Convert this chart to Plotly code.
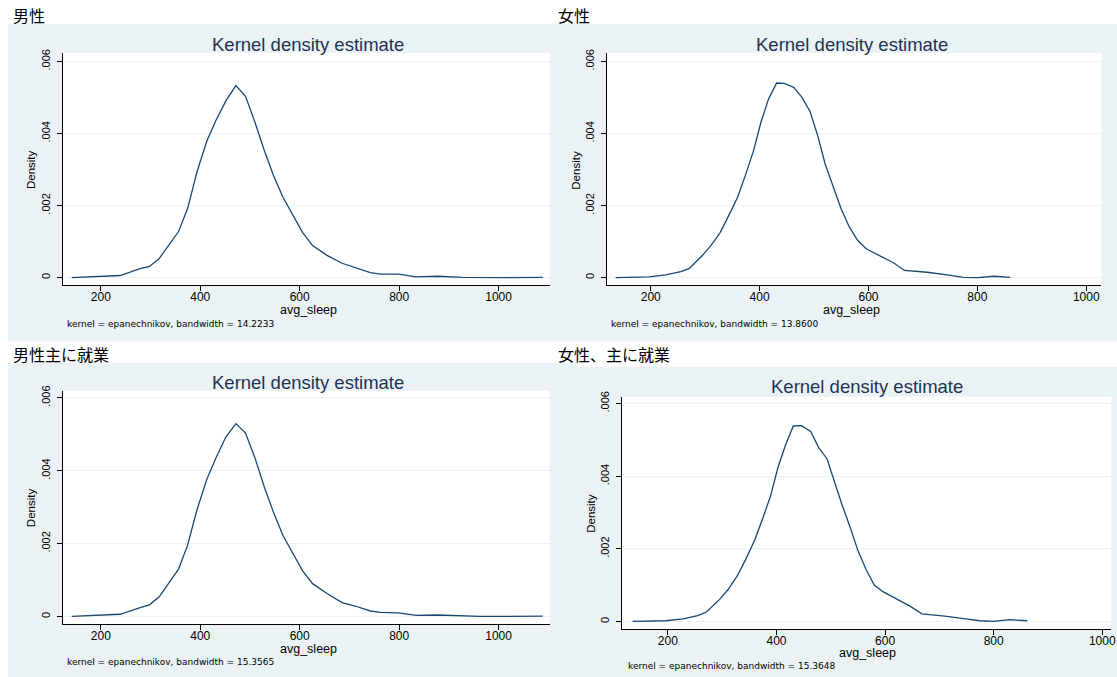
import plotly.graph_objects as go

# ---------------- data ----------------
panel_titles = ["男性", "女性", "男性主に就業", "女性、主に就業"]
bandwidths = ["14.2233", "13.8600", "15.3565", "15.3648"]

x_ticks = [200, 400, 600, 800, 1000]
y_ticks = [0, 0.002, 0.004, 0.006]
y_tick_text = ["0", ".002", ".004", ".006"]

male_x = [141.6, 181.9, 238.9, 279.1, 297.9, 317.4, 336.2, 356.3, 374.4, 393.3, 413.4, 431.5,
          451.7, 471.8, 491.1, 510.0, 528.8, 547.5, 566.4, 585.7, 605.9, 626.0, 655.0, 685.2,
          712.9, 742.2, 762.3, 798.6, 834.3, 877.0, 927.0, 962.9, 1020.0, 1089.0]
male_y = [0.0, 0.00003, 0.00006, 0.00025, 0.00031, 0.00053, 0.00089, 0.00128, 0.00191, 0.00293,
          0.0038, 0.00436, 0.00491, 0.00533, 0.00503, 0.00431, 0.00353, 0.00283, 0.00223, 0.00177,
          0.00125, 0.00089, 0.00062, 0.0004, 0.00028, 0.00014, 0.0001, 0.0001, 0.00002, 0.00004,
          0.00001, 0.0, 0.0, 0.00001]

female_x = [135.6, 196.9, 227.6, 255.2, 270.5, 295.1, 310.4, 327.5, 344.1, 359.5, 374.8, 389.0,
            402.4, 416.5, 431.3, 445.3, 462.6, 477.8, 492.6, 506.7, 520.2, 535.4, 549.6, 564.9,
            580.3, 595.6, 620.0, 645.0, 666.2, 707.9, 747.7, 774.2, 800.7, 830.5, 860.3]
female_y = [0.0, 0.00002, 0.00008, 0.00017, 0.00025, 0.00062, 0.00089, 0.00125, 0.00175, 0.00223,
            0.00288, 0.00353, 0.00431, 0.00496, 0.0054, 0.00539, 0.00528, 0.005, 0.00461, 0.00394,
            0.00316, 0.00251, 0.00191, 0.0014, 0.00103, 0.0008, 0.00062, 0.00042, 0.0002, 0.00015,
            0.00007, 0.00001, 0.0, 0.00004, 0.00001]

male_work_x = male_x
male_work_y = [0.0, 0.00003, 0.00006, 0.00024, 0.00032, 0.00054, 0.0009, 0.0013, 0.00195, 0.00292,
               0.00377, 0.00435, 0.00493, 0.00529, 0.00503, 0.00435, 0.00355, 0.00285, 0.00222,
               0.00176, 0.00125, 0.0009, 0.00063, 0.00038, 0.00028, 0.00015, 0.00011, 0.0001,
               0.00003, 0.00004, 0.00002, 0.0, 0.0, 0.00001]

female_work_x = [135, 196, 228, 255, 271, 295, 311, 328, 344, 360, 375, 389, 403, 417, 431, 446,
                 463, 478, 493, 507, 521, 536, 550, 565, 580, 596, 620, 645, 668, 710, 748, 775,
                 800, 830, 862]
female_work_y = [0.0, 0.00002, 0.00007, 0.00016, 0.00026, 0.0006, 0.00088, 0.00126, 0.00173,
                 0.00224, 0.00285, 0.00345, 0.00425, 0.00487, 0.00538, 0.00539, 0.00523, 0.00478,
                 0.00448, 0.00383, 0.0032, 0.00258, 0.00195, 0.00143, 0.001, 0.00082, 0.00062,
                 0.00043, 0.00021, 0.00015, 0.00007, 0.00002, 0.0, 0.00005, 0.00002]

series = [(male_x, male_y), (female_x, female_y),
          (male_work_x, male_work_y), (female_work_x, female_work_y)]

# ---------------- layout (pixel geometry, in target-picture pixels) ----------------
SX, SY = 0.9944, 0.988   # observed picture scale of the page
OY = 6.5                 # observed picture top offset
W, H = 1125, 680         # css size of the figure
def fx(px): return (px / SX) / W
def fy(py): return 1 - ((py - OY) / SY) / H

panels = [
    dict(l=62.7, r=549, t=53, b=285, x200=100.7, x1000=498.0, y0=277.3, y6=61.7,
         title=(11, 15), kde=(308, 45), dens=(31, 170), xlab=(308, 310), note=(65, 323)),
    dict(l=606, r=1100, t=53, b=285, x200=650.0, x1000=1085.0, y0=277.3, y6=61.7,
         title=(555, 15), kde=(851, 45), dens=(575, 170), xlab=(851, 310), note=(608, 323)),
    dict(l=62.7, r=549, t=390, b=623, x200=100.7, x1000=498.0, y0=615, y6=397,
         title=(11, 353), kde=(308, 382), dens=(31, 507), xlab=(308, 647), note=(65, 660)),
    dict(l=621, r=1110, t=396, b=628, x200=667.1, x1000=1101.0, y0=620, y6=402.7,
         title=(555, 353), kde=(866, 386), dens=(590, 512), xlab=(866, 651), note=(625, 664)),
]

bg_rects = [(8, 1117, 24.5, 341), (8, 566, 362, 677), (568, 1117, 366, 677)]

BG = "#eaf2f3"
LINE = "#1a476f"
TXT_FONT = "Liberation Sans, Arial, sans-serif"
NOTE_FONT = "DejaVu Sans, sans-serif"
CJK_FONT = "Noto Sans CJK JP, sans-serif"

fig = go.Figure()
shapes = []
annotations = []
layout_axes = {}

for x0, x1, y0, y1 in bg_rects:
    shapes.append(dict(type="rect", xref="paper", yref="paper", x0=fx(x0), x1=min(1, fx(x1) + 0.01),
                       y0=max(0, fy(y1) - 0.01) if y1 >= 677 else fy(y1), y1=fy(y0),
                       fillcolor=BG, line=dict(width=0), layer="below"))

for i, (p, (xs, ys)) in enumerate(zip(panels, series)):
    n = "" if i == 0 else str(i + 1)
    upx = 800.0 / (p["x1000"] - p["x200"])
    upy = 0.006 / (p["y0"] - p["y6"])
    xr = [200 - (p["x200"] - p["l"]) * upx, 200 + (p["r"] - p["x200"]) * upx]
    yr = [-(p["b"] - p["y0"]) * upy, 0.006 + (p["y6"] - p["t"]) * upy]

    shapes.append(dict(type="rect", xref="paper", yref="paper", x0=fx(p["l"]), x1=fx(p["r"]),
                       y0=fy(p["b"]), y1=fy(p["t"]), fillcolor="white", line=dict(width=0),
                       layer="below"))

    layout_axes["xaxis" + n] = dict(
        domain=[fx(p["l"]), fx(p["r"])], range=xr, anchor="y" + n,
        tickvals=x_ticks, ticks="outside", ticklen=5, tickcolor="black", tickwidth=1,
        ticklabelstandoff=-5,
        showline=True, linecolor="black", linewidth=1, showgrid=False, zeroline=False,
        tickfont=dict(family=TXT_FONT, size=12, color="black"), fixedrange=True)
    layout_axes["yaxis" + n] = dict(
        domain=[fy(p["b"]), fy(p["t"])], range=yr, anchor="x" + n,
        tickvals=y_ticks, ticktext=y_tick_text, tickangle=-90,
        ticks="outside", ticklen=5, tickcolor="black", tickwidth=1, ticklabelstandoff=2,
        showline=True, linecolor="black", linewidth=1, showgrid=True, gridcolor=BG,
        gridwidth=1, zeroline=False,
        tickfont=dict(family=TXT_FONT, size=11, color="black"), fixedrange=True)

    fig.add_trace(go.Scatter(x=xs, y=ys, mode="lines", xaxis="x" + n, yaxis="y" + n,
                             line=dict(color=LINE, width=1.3), showlegend=False,
                             hoverinfo="skip"))

    annotations += [
        dict(text=panel_titles[i], x=fx(p["title"][0]), y=fy(p["title"][1]), xanchor="left",
             yanchor="middle", font=dict(family=CJK_FONT, size=16, color="black")),
        dict(text="Kernel density estimate", x=fx(p["kde"][0]), y=fy(p["kde"][1]),
             xanchor="center", yanchor="middle",
             font=dict(family=TXT_FONT, size=18.5, color="#1f3356")),
        dict(text="Density", x=fx(p["dens"][0]), y=fy(p["dens"][1]), textangle=-90,
             xanchor="center", yanchor="middle",
             font=dict(family=TXT_FONT, size=11.5, color="black")),
        dict(text="avg_sleep", x=fx(p["xlab"][0]), y=fy(p["xlab"][1]), xanchor="center",
             yanchor="middle", font=dict(family=TXT_FONT, size=12.5, color="black")),
        dict(text="kernel = epanechnikov, bandwidth = " + bandwidths[i], x=fx(p["note"][0]),
             y=fy(p["note"][1]), xanchor="left", yanchor="middle",
             font=dict(family=NOTE_FONT, size=9, color="black")),
    ]

for a in annotations:
    a.update(xref="paper", yref="paper", showarrow=False)

fig.update_layout(
    width=W, height=H, autosize=False,
    margin=dict(l=0, r=0, t=0, b=0, pad=0),
    paper_bgcolor="white", plot_bgcolor="white",
    shapes=shapes, annotations=annotations, showlegend=False,
    **layout_axes,
)

page_fix = (
    "document.documentElement.style.margin='0';"
    "document.documentElement.style.padding='0';"
    "document.documentElement.style.overflow='hidden';"
    "document.body.style.margin='0';"
    "document.body.style.padding='0';"
    "document.body.style.overflow='hidden';"
    "var gd=document.getElementById('{plot_id}');"
    "if(gd){gd.style.position='fixed';gd.style.left='0px';gd.style.top='0px';gd.style.margin='0';}"
    "window.scrollTo(0,0);"
)

fig.write_html("out.html", config=dict(displayModeBar=False), post_script=page_fix)
